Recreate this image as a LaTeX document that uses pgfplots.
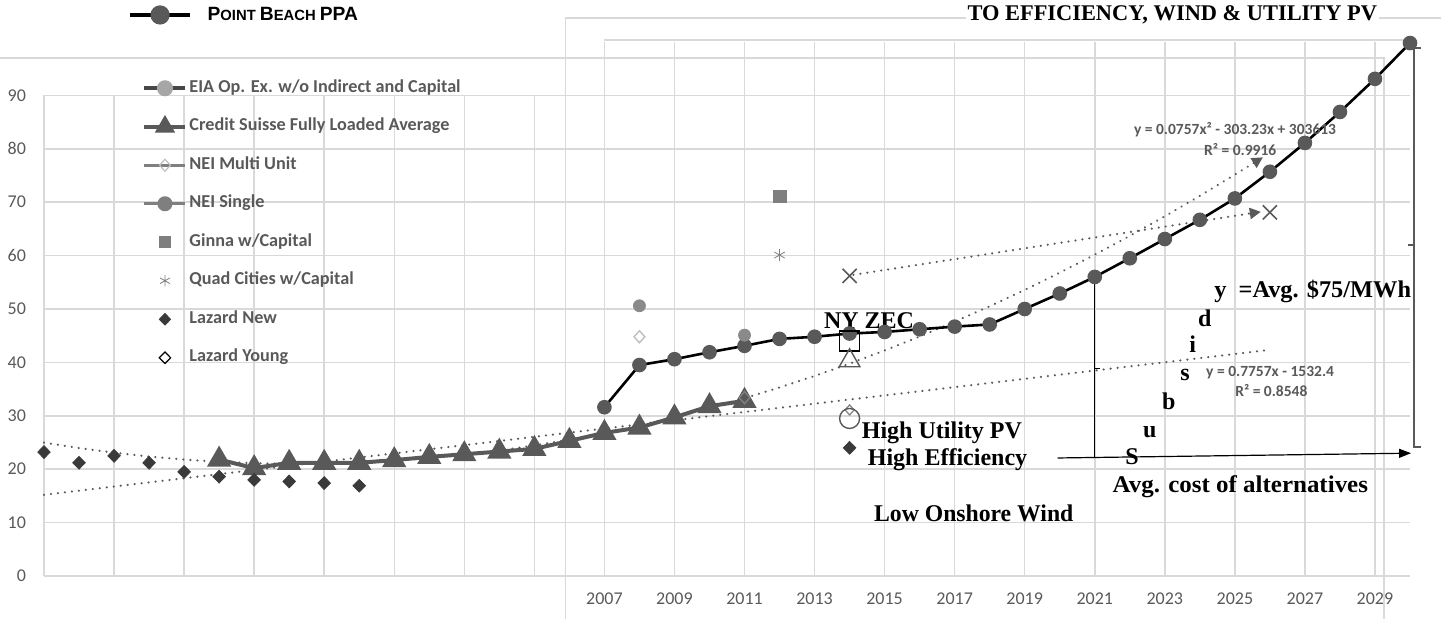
\documentclass[border=0pt]{standalone}
\usepackage{fontspec}
\setmainfont{Liberation Serif}
\newfontfamily\carlito{Carlito}
\newfontfamily\lsans{Liberation Sans}
\usepackage{pgfplots}
\pgfplotsset{compat=1.18}
\usetikzlibrary{arrows.meta}
\definecolor{gridc}{HTML}{D9D9D9}
\definecolor{dg}{HTML}{595959}
\definecolor{mg}{HTML}{7F7F7F}
\definecolor{pg}{HTML}{8A8A8A}
\definecolor{lg}{HTML}{A6A6A6}
\definecolor{vlg}{HTML}{BFBFBF}
\definecolor{dk}{HTML}{3A3A3A}
\pgfplotsset{
  myleg/.style={legend image code/.code={\draw[mark repeat=2,mark phase=2,##1] plot coordinates {(0pt,0pt) (10.25pt,0pt) (20.5pt,0pt)};}},
  ppaleg/.style={legend image code/.code={\draw[mark repeat=2,mark phase=2,##1] plot coordinates {(0pt,0pt) (15pt,0pt) (30pt,0pt)};}},
  trend/.style={dg, line width=1.2pt, line cap=round, dash pattern=on 0.01pt off 3.5pt},
}
\newcommand\tb{\bfseries\fontsize{12}{14}\selectfont}
\newcommand\eqf{\carlito\bfseries\fontsize{7.75}{9}\selectfont}
\begin{document}
\begin{tikzpicture}
\path[use as bounding box] (-22pt,-21.5pt) rectangle (698.5pt,288pt);
\begin{axis}[
  scale only axis, width=683pt, height=267pt,
  xmin=1991, xmax=2030, ymin=0, ymax=100,
  clip=false,
  axis line style={draw=none}, major tick length=0pt,
  xtick={2007,2009,...,2029},
  xticklabels={2007,2009,2011,2013,2015,2017,2019,2021,2023,2025,2027,2029},
  ytick={0,10,...,90},
  grid=major, grid style={gridc, line width=0.75pt},
  /pgf/number format/assume math mode=true,
  tick label style={font=\carlito\fontsize{9}{10}\selectfont, text=dg},
  yticklabel style={xshift=-5.5pt},
  xticklabel style={yshift=-5pt},
  legend style={at={(axis cs:1993.8,66.1)}, anchor=west, draw=none, fill=none,
    inner sep=0pt, font=\carlito\bfseries\fontsize{9.1}{10}\selectfont, text=dg,
    row sep=10.25pt, column sep=1pt,
    nodes={inner sep=0pt, text height=6.5pt, text depth=2.5pt}},
  legend cell align=left,
]
% decorative frames of the overlaid charts
\pgfplotsinvokeforeach{1991,1993,...,2005}{\draw[gridc, line width=0.75pt] (axis cs:#1,0) -- (axis cs:#1,90);}
\draw[gridc, line width=0.75pt] (axis cs:2005.886,-8.05) -- (axis cs:2005.886,104.5) -- (axis cs:2030.91,104.5);
\draw[gridc, line width=0.75pt] (axis cs:1989.7,97.0) -- (axis cs:2029.26,97.0) -- (axis cs:2029.26,-8.05);
\draw[gridc, line width=0.75pt] (axis cs:2007,100.37) -- (axis cs:2030.03,100.37);

% legend entries
\addlegendimage{myleg, color=dg!80!black, line width=2pt, mark=*, mark size=3pt, mark options={fill=lg, draw=lg}}
\addlegendentry{EIA Op. Ex. w/o Indirect and Capital}
\addlegendimage{myleg, dg, line width=2pt, mark=triangle*, mark size=3.9pt, mark options={fill=dg}}
\addlegendentry{Credit Suisse Fully Loaded Average}
\addlegendimage{myleg, mg, line width=1.5pt, mark=diamond, mark size=3pt, mark options={draw=vlg, fill=white, line width=0.6pt, xscale=1.2}}
\addlegendentry{NEI Multi Unit}
\addlegendimage{myleg, mg, line width=1.5pt, mark=*, mark size=3pt, mark options={fill=mg}}
\addlegendentry{NEI Single}
\addlegendimage{only marks, myleg, mark=square*, mark size=2.8pt, color=mg}
\addlegendentry{Ginna w/Capital}
\addlegendimage{only marks, myleg, mark=asterisk, mark size=2.8pt, color=mg}
\addlegendentry{Quad Cities w/Capital}
\addlegendimage{only marks, myleg, mark=diamond*, mark size=2.9pt, color=dk, mark options={xscale=1.3}}
\addlegendentry{Lazard New}
\addlegendimage{only marks, myleg, mark=diamond, mark size=2.9pt, color=black, line width=0.6pt, mark options={xscale=1.3}}
\addlegendentry{Lazard Young}

% trend lines
\addplot[trend, -{Triangle[length=5.5pt,width=5.5pt]}, forget plot] coordinates {
(1991,24.98) (1992,23.96) (1993,23.09) (1994,22.37) (1995,21.80) (1996,21.38)
(1997,21.12) (1998,21.00) (1999,21.04) (2000,21.23) (2001,21.57) (2002,22.06)
(2003,22.70) (2004,23.50) (2005,24.45) (2006,25.54) (2007,26.79) (2008,28.19)
(2009,29.74) (2010,31.45) (2011,33.30) (2012,35.31) (2013,37.46) (2014,39.77)
(2015,42.23) (2016,44.84) (2017,47.61) (2018,50.52) (2019,53.58) (2020,56.80)
(2021,60.17) (2022,63.69) (2023,67.36) (2024,71.18) (2025,75.16) (2025.8,78.4)};
\addplot[trend, forget plot] coordinates {(1991,15.2) (2026,42.35)};
\addplot[trend, -{Triangle[length=5.5pt,width=5.5pt]}, forget plot] coordinates {(2014.11,56.4) (2025.74,68.2)};

% Credit Suisse
\addplot[dg, line width=2pt, mark=triangle*, mark size=5pt, mark options={fill=dg}, forget plot] coordinates {
(1996,21.8) (1997,20.2) (1998,21.2) (1999,21.2) (2000,21.2) (2001,21.7) (2002,22.3)
(2003,22.8) (2004,23.3) (2005,23.8) (2006,25.3) (2007,26.8) (2008,27.8) (2009,29.7)
(2010,31.8) (2011,32.8)};

% Lazard New
\addplot[only marks, mark=diamond*, mark size=3.2pt, color=dk, mark options={xscale=1.3}, forget plot] coordinates {
(1991,23.2) (1992,21.2) (1993,22.5) (1994,21.2) (1995,19.5) (1996,18.6) (1997,18.0)
(1998,17.7) (1999,17.4) (2000,16.9) (2014,24.0)};

% Point Beach PPA
\addplot[black, line width=1.3pt, mark=*, mark size=3pt, mark options={fill=dg, draw=dg}, forget plot] coordinates {
(2007,31.6) (2008,39.5) (2009,40.6) (2010,41.9) (2011,43.1) (2012,44.4) (2013,44.8)
(2014,45.4) (2015,45.7) (2016,46.2) (2017,46.7) (2018,47.1) (2019,50.0) (2020,52.9)
(2021,56.0) (2022,59.5) (2023,63.1) (2024,66.7) (2025,70.7) (2026,75.7) (2027,81.1)
(2028,86.9) (2029,93.1) (2030,99.8)};

% single points
\addplot[only marks, mark=*, mark size=3pt, color=pg, forget plot] coordinates {(2008,50.6) (2011,45.1)};
\addplot[only marks, mark=diamond, mark size=3pt, color=vlg, line width=0.7pt, mark options={xscale=1.2}, forget plot] coordinates {(2008,44.8)};
\addplot[only marks, mark=diamond, mark size=3pt, color=mg, line width=0.7pt, mark options={xscale=1.2}, forget plot] coordinates {(2011,33.4)};
\addplot[only marks, mark=square*, mark size=3.2pt, color=mg, forget plot] coordinates {(2012,71.1)};
\addplot[only marks, mark=asterisk, mark size=3pt, color=mg, forget plot] coordinates {(2012,60.1)};
\addplot[only marks, mark=x, mark size=5pt, color=dg, line width=0.8pt, forget plot] coordinates {(2014,56.2) (2026,68.1)};
\addplot[only marks, mark=square, mark size=5pt, color=black, line width=0.8pt, forget plot] coordinates {(2014,44.0)};
\addplot[only marks, mark=triangle, mark size=6pt, color=dg, line width=0.7pt, forget plot] coordinates {(2014,40.3)};
\addplot[only marks, mark=diamond, mark size=2.5pt, color=mg, line width=0.6pt, mark options={xscale=1.2}, forget plot] coordinates {(2014,31.1)};
\addplot[only marks, mark=o, mark size=5pt, color=dg, line width=0.7pt, forget plot] coordinates {(2014,29.5)};

% annotation lines
\draw[black, line width=0.7pt] (axis cs:2021,56.0) -- (axis cs:2021,22.1);
\draw[black, line width=0.7pt] (axis cs:2021,38.8) -- (axis cs:2021.15,38.8);
\draw[black, line width=0.6pt, -{Triangle[length=6pt,width=4.5pt]}] (axis cs:2019.94,22.1) -- (axis cs:2030.03,23.0);
\draw[dg, line width=0.8pt] (axis cs:2030.3,98.9) -- (axis cs:2030.11,98.9) -- (axis cs:2030.11,24.2) -- (axis cs:2030.3,24.2);
\draw[dg, line width=0.8pt] (axis cs:2029.95,62) -- (axis cs:2030.11,62);

% texts
\node[anchor=base west, inner sep=0pt, font=\tb] at (axis cs:2013.26,46.4) {NY ZEC};
\node[anchor=base west, inner sep=0pt, font=\tb] at (axis cs:2014.34,25.8) {High Utility PV};
\node[anchor=base west, inner sep=0pt, font=\tb] at (axis cs:2014.51,20.6) {High Efficiency};
\node[anchor=base west, inner sep=0pt, font=\tb, xscale=0.987] at (axis cs:2014.69,10.2) {Low Onshore Wind};
\node[anchor=base west, inner sep=0pt, font=\tb, xscale=1.015] at (axis cs:2024.40,52.1) {y\ \ =Avg. \$75/MWh};
\node[anchor=base west, inner sep=0pt, font=\tb] at (axis cs:2023.94,46.7) {d};
\node[anchor=base west, inner sep=0pt, font=\tb] at (axis cs:2023.69,41.9) {i};
\node[anchor=base west, inner sep=0pt, font=\tb] at (axis cs:2023.43,36.7) {s};
\node[anchor=base west, inner sep=0pt, font=\tb] at (axis cs:2022.91,31.1) {b};
\node[anchor=base west, inner sep=0pt, font=\tb] at (axis cs:2022.37,25.9) {u};
\node[anchor=base west, inner sep=0pt, font=\tb] at (axis cs:2021.86,20.8) {S};
\node[anchor=base west, inner sep=0pt, font=\tb, xscale=1.04] at (axis cs:2021.50,15.6) {Avg. cost of alternatives};
\node[anchor=base west, inner sep=0pt, font=\eqf, text=dg] at (axis cs:2022.11,82.6) {y = 0.0757x² - 303.23x + 303613};
\node[anchor=base west, inner sep=0pt, font=\eqf, text=dg] at (axis cs:2024.11,78.8) {R² = 0.9916};
\node[anchor=base west, inner sep=0pt, font=\eqf, text=dg] at (axis cs:2024.17,37.3) {y = 0.7757x - 1532.4};
\node[anchor=base west, inner sep=0pt, font=\eqf, text=dg] at (axis cs:2025.0,33.6) {R² = 0.8548};
\node[anchor=base west, inner sep=1pt, fill=white, font=\bfseries\fontsize{11.2}{13}\selectfont] at (axis cs:2017.30,104.0) {TO EFFICIENCY, WIND \& UTILITY PV};
\end{axis}
\begin{axis}[
  scale only axis, width=683pt, height=267pt,
  xmin=1991, xmax=2030, ymin=0, ymax=100,
  hide axis, clip=false,
  legend style={at={(axis cs:1993.4,105.06)}, anchor=west, draw=none, fill=none,
    inner sep=0pt, column sep=8pt, font=\lsans\bfseries,
    nodes={inner sep=0pt}},
]
\addlegendimage{ppaleg, black, line width=1.6pt, mark=*, mark size=4pt, mark options={fill=dg, draw=dg}}
\addlegendentry{{\fontsize{9.6}{10}\selectfont P}{\fontsize{7.4}{8}\selectfont OINT }{\fontsize{9.6}{10}\selectfont B}{\fontsize{7.4}{8}\selectfont EACH }{\fontsize{9.6}{10}\selectfont PPA}}
\end{axis}
\end{tikzpicture}
\end{document}
